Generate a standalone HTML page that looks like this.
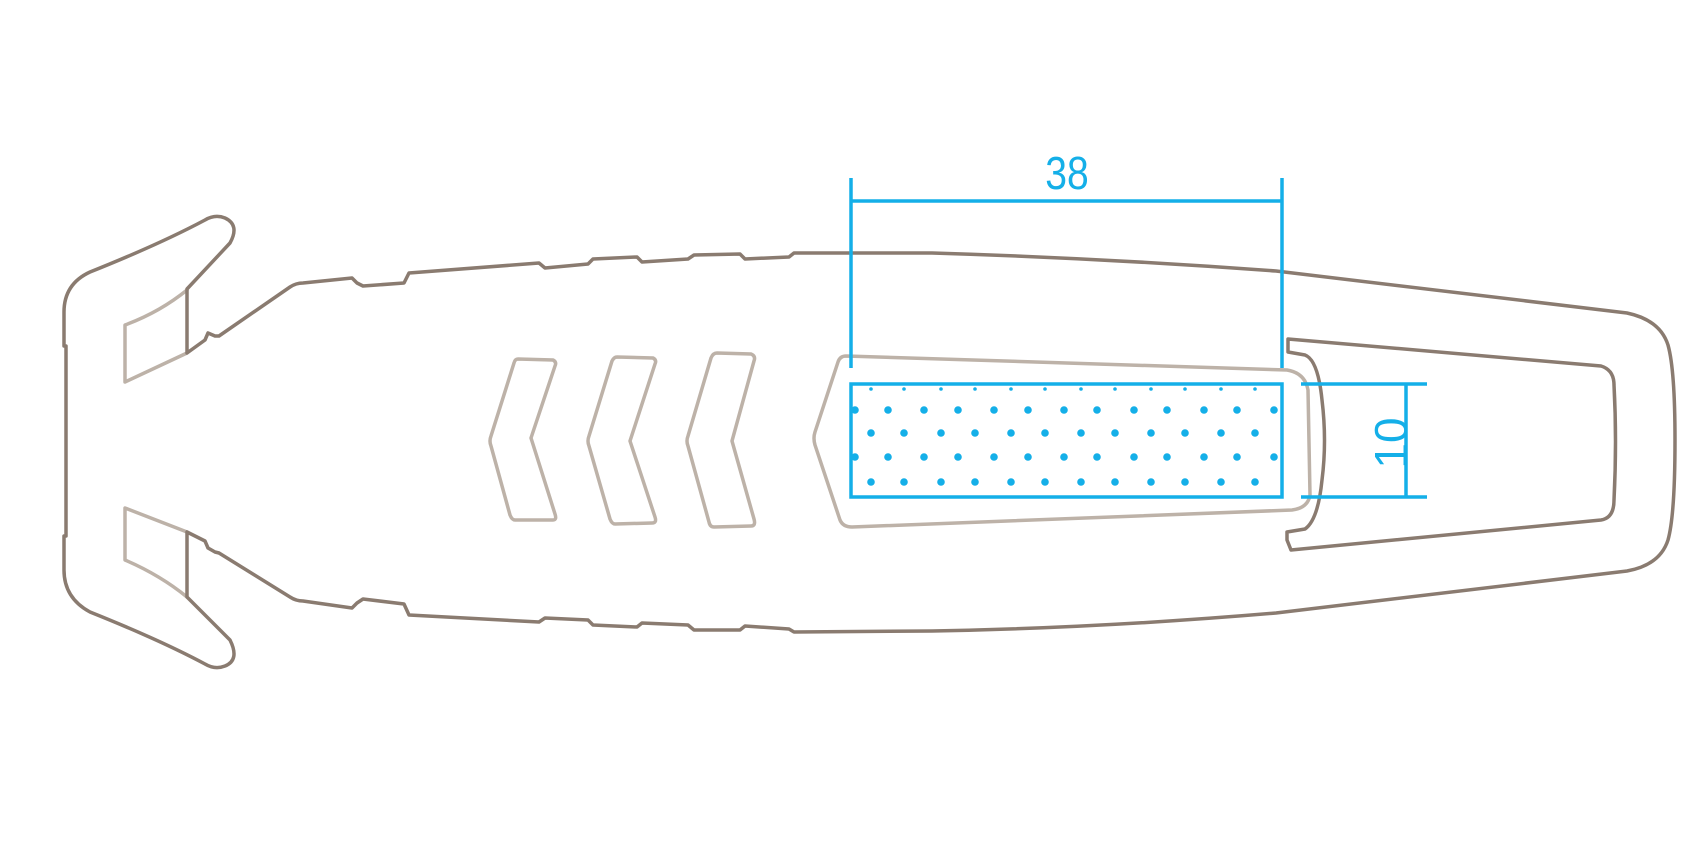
<!DOCTYPE html>
<html><head><meta charset="utf-8"><style>
html,body{margin:0;padding:0;background:#fff;}
svg{display:block;}
</style></head><body>
<svg width="1700" height="850" viewBox="0 0 1700 850" xmlns="http://www.w3.org/2000/svg">
<g fill="none" stroke-linejoin="round" stroke-linecap="round">
<path d="M187,290 Q160,312 125,325 L125,382 L187,353" stroke="#bdb2a8" stroke-width="3.5"/>
<path d="M187,532 L125,508 L125,560 Q160,575 187,597" stroke="#bdb2a8" stroke-width="3.5"/>
<path d="M187,353 L205,340 L208,333 L215,336 L219,336 L290,287 Q296,283 303,283 L352,278 L357,283 L363,286 L404,283 L409,273 L539,263 L545,268 L588,264 L593,259 L637,257 L642,262 L688,259 L694,255 L740,254 L745,259 L789,257 L794,253
 Q870,253 932,253 Q1100,258 1276,271 L1627,313 Q1660,320 1668,345 Q1675,370 1675,440 Q1675,515 1668,540 Q1660,565 1627,571 L1276,613 Q1100,628 932,631 L794,632 L789,629 L745,626 L740,630 L694,630 L688,625 L642,623 L637,627 L593,625 L588,620 L545,618 L539,622 L409,615 L404,604 L363,599 L357,603 L352,608 L303,601 Q296,601 290,597 L219,553 L215,552 L208,548 L205,541 L187,532 L187,597 L230,640 Q240,660 225,666 Q215,670 205,664 Q160,640 90,612 Q64,598 64,570 L64,536 L66,536 L66,346 L64,346 L64,312 Q64,284 90,272 Q160,244 205,220 Q215,214 225,218 Q240,225 230,243 L187,289 L187,353 Z" stroke="#8a7b70" stroke-width="3.5"/>
<path d="M1288,352 L1288,339 L1601,366 Q1614,370 1614,385 Q1617,441 1614,500 Q1614,518 1601,520 L1291,550 L1287,540 L1287,532 L1305,529 Q1318,520 1322,480 Q1327,441 1322,400 Q1318,360 1305,355 Z" stroke="#8a7b70" stroke-width="3.5"/>
<path d="M518,359 L553,360 Q557,362 555,366 L531,438 L555,514 Q557,520 553,520 L515,520 Q512,520 510,515 L491,446 Q489,441 491,436 L514,363 Q515,359 518,359 Z" stroke="#bdb2a8" stroke-width="3.5"/>
<path d="M617,357 L653,358 Q657,360 655,364 L630,441 L655,517 Q657,523 652,523 L615,524 Q612,524 610,519 L589,446 Q587,441 589,436 L612,361 Q614,357 617,357 Z" stroke="#bdb2a8" stroke-width="3.5"/>
<path d="M717,353 L751,354 Q756,356 754,361 L732,441 L754,519 Q756,526 751,526 L714,527 Q710,527 709,522 L688,446 Q686,441 688,436 L711,358 Q713,353 717,353 Z" stroke="#bdb2a8" stroke-width="3.5"/>
<path d="M846,356 L1287,370 Q1305,373 1308,390 L1310,495 Q1308,508 1292,510 L852,527 Q843,527 840,520 L815,445 Q813,438 815,432 L838,362 Q840,356 846,356 Z" stroke="#bdb2a8" stroke-width="3.5"/>
</g>
<g stroke="#14afe8" stroke-width="3.5" fill="none">
<rect x="851" y="384" width="431" height="113" fill="#fff"/>
<line x1="851" y1="178" x2="851" y2="368"/>
<line x1="1282" y1="178" x2="1282" y2="368"/>
<line x1="851" y1="201" x2="1282" y2="201"/>
<line x1="1301" y1="384" x2="1427" y2="384"/>
<line x1="1301" y1="497" x2="1427" y2="497"/>
<line x1="1406" y1="384" x2="1406" y2="497"/>
</g>
<g fill="#14afe8">
<g id="ra"><circle cx="855" cy="410" r="3.8"/><circle cx="888" cy="410" r="3.8"/><circle cx="924" cy="410" r="3.8"/><circle cx="958" cy="410" r="3.8"/><circle cx="994" cy="410" r="3.8"/><circle cx="1028" cy="410" r="3.8"/><circle cx="1064" cy="410" r="3.8"/><circle cx="1097" cy="410" r="3.8"/><circle cx="1134" cy="410" r="3.8"/><circle cx="1167" cy="410" r="3.8"/><circle cx="1204" cy="410" r="3.8"/><circle cx="1237" cy="410" r="3.8"/><circle cx="1274" cy="410" r="3.8"/></g>
<use href="#ra" y="47"/>
<g id="rb"><circle cx="871" cy="433" r="3.8"/><circle cx="904" cy="433" r="3.8"/><circle cx="941" cy="433" r="3.8"/><circle cx="975" cy="433" r="3.8"/><circle cx="1011" cy="433" r="3.8"/><circle cx="1045" cy="433" r="3.8"/><circle cx="1081" cy="433" r="3.8"/><circle cx="1115" cy="433" r="3.8"/><circle cx="1151" cy="433" r="3.8"/><circle cx="1185" cy="433" r="3.8"/><circle cx="1221" cy="433" r="3.8"/><circle cx="1255" cy="433" r="3.8"/></g>
<use href="#rb" y="49"/>
<g><circle cx="871" cy="389" r="1.8"/><circle cx="904" cy="389" r="1.8"/><circle cx="941" cy="389" r="1.8"/><circle cx="975" cy="389" r="1.8"/><circle cx="1011" cy="389" r="1.8"/><circle cx="1045" cy="389" r="1.8"/><circle cx="1081" cy="389" r="1.8"/><circle cx="1115" cy="389" r="1.8"/><circle cx="1151" cy="389" r="1.8"/><circle cx="1185" cy="389" r="1.8"/><circle cx="1221" cy="389" r="1.8"/><circle cx="1255" cy="389" r="1.8"/></g>
<text x="1067" y="189" font-family="Liberation Sans, sans-serif" font-size="46" text-anchor="middle" transform="translate(1067,0) scale(0.85,1) translate(-1067,0)">38</text>
<text x="1392" y="458" font-family="Liberation Sans, sans-serif" font-size="46" text-anchor="middle" transform="rotate(-90 1392 443)">10</text>
</g>
</svg>
</body></html>
